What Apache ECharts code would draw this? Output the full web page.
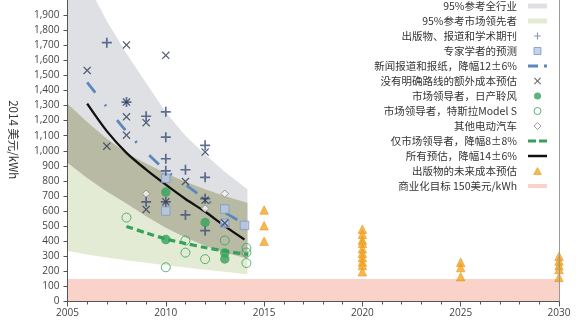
<!DOCTYPE html>
<html><head><meta charset="utf-8">
<script src="https://cdn.jsdelivr.net/npm/echarts@6/dist/echarts.min.js"></script>
<style>html,body{margin:0;padding:0;background:#fff}#c{width:576px;height:331px}</style>
</head><body><div id="c"></div>
<script>
// ---- band edges (95% ranges) ----
const bandYears        = [2005, 2006, 2007, 2008, 2009, 2010, 2011, 2012, 2013, 2014, 2014.15];
const allIndustryUpper = [2400, 2110, 1860, 1645, 1450, 1255, 1100, 975, 860, 760, 745];
const allIndustryLower = [920, 820, 730, 650, 565, 490, 425, 370, 325, 290, 285];
const leadersUpper     = [1312, 1190, 1080, 985, 915, 850, 795, 745, 700, 660, 655];
const leadersLower     = [335, 312, 292, 274, 257, 241, 226, 211, 197, 183, 181];

// ---- trend lines ----
const newsTrendYears   = [2006, 2007, 2008, 2009, 2010, 2011, 2012, 2013, 2013.8];
const newsTrend        = [1453, 1290, 1128, 990, 870, 775, 680, 590, 530];
const allTrendYears    = [2006, 2007, 2008, 2009, 2010, 2011, 2012, 2013, 2014];
const allTrend         = [1312, 1130, 986, 875, 775, 680, 595, 500, 411];
const leaderTrendYears = [2008, 2009, 2010, 2011, 2012, 2013, 2014, 2014.2];
const leaderTrend      = [498, 455, 415, 385, 358, 335, 315, 312];
const targetYears      = [2005, 2030];
const targetValues     = [150, 150];

// ---- scatter points [year, value] ----
const publications = [[2007,1717],[2008,1323],[2009,1229],[2010,1258],[2010,1090],[2010,947],[2010,867],[2011,874],[2012,1036],[2012,824],[2009,661],[2010,661],[2011,574],[2012,682],[2012,470]];
const experts      = [[2010,817],[2010,600],[2013,613],[2013,520],[2014,505]];
const noRoadmap    = [[2008,1702],[2010,1633],[2006,1533],[2008,1323],[2008,1225],[2009,1186],[2008,1103],[2007,1030],[2012,991],[2011,796],[2009,611],[2010,661],[2012,672],[2013,520]];
const nissanLeaf   = [[2010,726],[2010,411],[2012,524],[2013,322],[2013,282]];
const teslaModelS  = [[2008,557],[2010,227],[2011,405],[2011,324],[2012,281],[2013,405],[2014.1,355],[2014.1,325],[2014.1,255]];
const otherEVs     = [[2009,715],[2012,617],[2013,715]];
const futureEstimates = [[2015,607],[2015,503],[2015,400],
  [2020,480],[2020,446],[2020,408],[2020,386],[2020,350],[2020,320],[2020,292],[2020,262],[2020,238],[2020,197],
  [2025,260],[2025,225],[2025,165],
  [2030,300],[2030,268],[2030,238],[2030,212],[2030,160]];

// ---- tick labels ----
const xTickYears = [2005, 2010, 2015, 2020, 2025, 2030];

const N = {
  allInd: '95%参考全行业', leaders: '95%参考市场领先者', pubs: '出版物、报道和学术期刊',
  experts: '专家学者的预测', news: '新闻报道和报纸，降幅12±6%', noRoad: '没有明确路线的额外成本预估',
  leaf: '市场领导者，日产聆风', tesla: '市场领导者，特斯拉Model S', other: '其他电动汽车',
  leaderTrend: '仅市场领导者，降幅8±8%', allTrend: '所有预估，降幅14±6%', future: '出版物的未来成本预估',
  target: '商业化目标 150美元/kWh'
};
const C = { gray:'#dfe0e3', green:'#e4ebd5', olive:'#b9baa4', pink:'#f9d3c9', plus:'#3a4d78', cross:'#2b3a58',
  sqFill:'#b5c8e7', sqBorder:'#7c98c7', green2:'#35a159', news:'#5a88bd', tri:'#f6a623', triB:'#dc8a00' };

const P_PLUS = 'path://M4.15,0H5.85V4.15H10V5.85H5.85V10H4.15V5.85H0V4.15H4.15Z';
const P_X = 'path://M1.1,0L5,3.9L8.9,0L10,1.1L6.1,5L10,8.9L8.9,10L5,6.1L1.1,10L0,8.9L3.9,5L0,1.1Z';
const P_SQ = 'path://M0,0H10V10H0Z';
const P_DIA = 'path://M5,0L10,5L5,10L0,5Z';
const P_TRI = 'path://M5,0L10,9H0Z';
const I_BAND = 'path://M0,0H19V5H0Z';
const I_PINK = 'path://M0,0H19V4H0Z';
const I_DASHDOT = 'path://M0,0H10V3H0ZM16,0H19V3H16Z';
const I_DASH = 'path://M0,0H8V3H0ZM11,0H19V3H11Z';
const I_SOLID = 'path://M0,0H19V2.5H0Z';

function zip(xs, ys) { return xs.map((x, i) => [x, ys[i]]); }

function band(name, upper, lower, color) {
  return {
    type: 'custom', name, silent: true, clip: true,
    data: [[bandYears[0], lower[0]]],
    encode: { x: 0, y: 1 },
    itemStyle: { color },
    renderItem: function (params, api) {
      const pts = [];
      for (let i = 0; i < bandYears.length; i++) pts.push(api.coord([bandYears[i], upper[i]]));
      for (let i = bandYears.length - 1; i >= 0; i--) pts.push(api.coord([bandYears[i], lower[i]]));
      return { type: 'polygon', shape: { points: pts }, style: { fill: color } };
    }
  };
}

function scatter(name, data, symbol, size, itemStyle) {
  return { type: 'scatter', name, data, symbol, symbolSize: size, itemStyle, z: 5, silent: true };
}

const option = {
  backgroundColor: '#ffffff',
  animation: false,
  grid: { left: 66, right: 17, top: -5.7, bottom: 29.5 },
  xAxis: {
    type: 'value', min: 2005, max: 2030, interval: 5, z: 10,
    axisLine: { show: true, lineStyle: { color: '#555', width: 1 } },
    axisTick: { show: true, length: 5, lineStyle: { color: '#555' } },
    minorTick: { show: true, splitNumber: 5, length: 3, lineStyle: { color: '#555' } },
    splitLine: { show: false },
    axisLabel: { margin: 7, fontSize: 10, color: '#444', fontFamily: 'Open Sans',
      formatter: v => (xTickYears.indexOf(v) >= 0 ? String(v) : '') }
  },
  yAxis: [{
    type: 'value', min: 0, max: 2000, interval: 100, z: 10,
    name: '2014 美元/kWh', nameLocation: 'middle', nameRotate: -90, nameGap: 48,
    nameTextStyle: { fontSize: 11.5, color: '#333', fontFamily: 'Noto Sans CJK SC', padding: [0, 22, 0, 0] },
    axisLine: { show: true, lineStyle: { color: '#555' } },
    axisTick: { show: true, length: 4, lineStyle: { color: '#555' } },
    splitLine: { show: false },
    axisLabel: { margin: 8, fontSize: 10, color: '#444', fontFamily: 'Open Sans', showMaxLabel: false,
      formatter: v => (v >= 1000 ? Math.floor(v / 1000) + ',' + String(v % 1000).padStart(3, '0') : String(v)) }
  }, {
    type: 'value', min: 0, max: 2000, position: 'right', z: 10,
    axisLine: { show: true, lineStyle: { color: '#999' } },
    axisTick: { show: false }, axisLabel: { show: false }, splitLine: { show: false }
  }],
  legend: {
    orient: 'vertical', align: 'right', right: 29, top: -1.5, padding: 0,
    itemWidth: 19, itemHeight: 7, itemGap: 0, selectedMode: false,
    textStyle: { fontSize: 10.5, color: '#333', fontFamily: 'Noto Sans CJK SC', lineHeight: 15, padding: [0, 6, 0, 0] },
    data: [
      { name: N.allInd, icon: I_BAND, itemStyle: { color: C.gray, borderWidth: 0 } },
      { name: N.leaders, icon: I_BAND, itemStyle: { color: C.green, borderWidth: 0 } },
      { name: N.pubs, icon: P_PLUS, itemStyle: { color: '#6f7f9e', borderWidth: 0 } },
      { name: N.experts, icon: P_SQ, itemStyle: { color: C.sqFill, borderColor: C.sqBorder, borderWidth: 1 } },
      { name: N.news, icon: I_DASHDOT, itemStyle: { color: C.news, borderWidth: 0 } },
      { name: N.noRoad, icon: P_X, itemStyle: { color: '#444', borderWidth: 0 } },
      { name: N.leaf, icon: 'circle', itemStyle: { color: C.green2, borderWidth: 0 } },
      { name: N.tesla, icon: 'circle', itemStyle: { color: '#fff', borderColor: C.green2, borderWidth: 1 } },
      { name: N.other, icon: P_DIA, itemStyle: { color: '#fff', borderColor: '#888', borderWidth: 1 } },
      { name: N.leaderTrend, icon: I_DASH, itemStyle: { color: C.green2, borderWidth: 0 } },
      { name: N.allTrend, icon: I_SOLID, itemStyle: { color: '#111', borderWidth: 0 } },
      { name: N.future, icon: P_TRI, itemStyle: { color: C.tri, borderColor: C.triB, borderWidth: 0.6 } },
      { name: N.target, icon: I_PINK, itemStyle: { color: C.pink, borderWidth: 0 } }
    ]
  },
  series: [
    band(N.leaders, leadersUpper, leadersLower, C.green),
    band(N.allInd, allIndustryUpper, allIndustryLower, C.gray),
    band('overlap', leadersUpper, allIndustryLower, C.olive),
    { type: 'line', name: N.target, data: zip(targetYears, targetValues), symbol: 'none', silent: true,
      lineStyle: { width: 0 }, itemStyle: { color: C.pink }, areaStyle: { color: C.pink, opacity: 1 }, z: 3 },
    { type: 'line', name: N.news, data: zip(newsTrendYears, newsTrend), symbol: 'none', smooth: 0.3, silent: true,
      itemStyle: { color: C.news }, lineStyle: { color: C.news, width: 2.8, type: [13, 15, 2, 18], cap: 'butt' }, z: 4 },
    { type: 'line', name: N.allTrend, data: zip(allTrendYears, allTrend), symbol: 'none', smooth: 0.3, silent: true,
      itemStyle: { color: '#111' }, lineStyle: { color: '#111', width: 2.3 }, z: 4 },
    { type: 'line', name: N.leaderTrend, data: zip(leaderTrendYears, leaderTrend), symbol: 'none', smooth: 0.3, silent: true,
      itemStyle: { color: C.green2 }, lineStyle: { color: C.green2, width: 3.2, type: [7, 4] }, z: 4 },
    scatter(N.other, otherEVs, P_DIA, 7.5, { color: '#f4f4f4', borderColor: '#888', borderWidth: 1 }),
    scatter(N.experts, experts, P_SQ, 8.5, { color: C.sqFill, borderColor: C.sqBorder, borderWidth: 1 }),
    scatter(N.pubs, publications, P_PLUS, 10, { color: C.plus }),
    scatter(N.noRoad, noRoadmap, P_X, 8, { color: C.cross }),
    scatter(N.leaf, nissanLeaf, 'circle', 9.5, { color: C.green2 }),
    scatter(N.tesla, teslaModelS, 'circle', 9, { color: 'rgba(255,255,255,0)', borderColor: C.green2, borderWidth: 1 }),
    scatter(N.future, futureEstimates, P_TRI, 8.5, { color: C.tri, borderColor: C.triB, borderWidth: 0.6 })
  ]
};
const chart = echarts.init(document.getElementById('c'));
chart.setOption(option);
</script>
</body></html>
